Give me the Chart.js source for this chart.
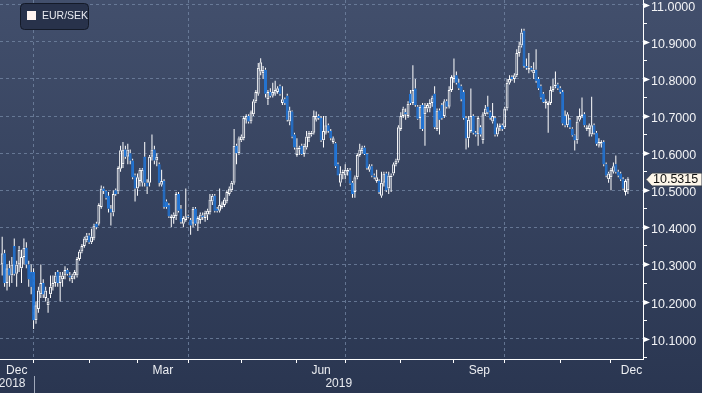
<!DOCTYPE html>
<html><head><meta charset="utf-8">
<script src="https://cdn.jsdelivr.net/npm/chart.js@4.4.1/dist/chart.umd.min.js"></script>
<style>html,body{margin:0;padding:0;background:#2c3853;overflow:hidden}#wrap{width:702px;height:393px;position:relative}</style>
</head><body><div id="wrap"><canvas id="c" width="702" height="393"></canvas></div>
<script>
// ---- data (trading-day index: Jan 1 2019 = 0; first candle at index -13) ----
const seriesName = 'EUR/SEK';
const firstDay = -13;
const opens = [
10.30,10.33,10.25,10.29,10.27,10.35,10.275,10.30,10.29,10.32,10.345,10.30,10.28,
10.28,10.15,10.18,10.22,10.25,10.21,10.19,10.22,10.24,10.25,10.28,10.25,10.26,10.27,10.285,10.27,10.26,10.27,10.27,10.315,10.335,10.35,10.365,10.378,10.36,10.37,10.41,10.41,10.455,10.505,10.498,10.485,10.45,10.44,10.50,10.497,10.558,10.57,10.61,
10.59,10.60,10.58,10.54,10.505,10.525,10.52,10.59,10.52,10.52,10.59,10.61,10.58,10.57,10.515,10.525,10.47,10.46,10.425,10.425,10.43,10.49,10.45,10.41,10.42,10.43,10.42,10.41,10.45,10.41,10.42,10.432,10.425,10.435,10.44,10.47,10.485,10.45,10.445,10.455,10.46,10.47,10.49,10.50,10.52,10.62,10.60,10.635,10.64,10.69,10.70,10.685,10.705,10.74,10.76,
10.82,10.815,10.825,10.745,10.765,10.755,10.76,10.765,10.78,10.735,10.745,10.755,10.685,10.712,10.65,10.595,10.61,10.62,10.598,10.615,10.64,10.65,10.655,10.69,10.70,10.695,10.635,10.655,10.675,10.66,10.63,10.627,10.57,10.52,10.545,10.54,10.55,10.553,10.52,10.495,10.535,10.595,10.605,10.615,10.598,10.555,10.565,10.54,10.525,10.525,10.485,10.52,10.545,
10.505,10.535,10.545,10.57,10.58,10.665,10.70,10.71,10.70,10.76,10.735,10.774,10.725,10.695,10.73,10.705,10.72,10.72,10.735,10.76,10.665,10.715,10.73,10.70,10.74,10.725,10.77,10.80,10.81,10.79,10.78,10.765,10.695,10.64,10.66,10.70,10.655,10.65,10.67,10.635,10.705,10.725,10.71,10.685,10.695,10.65,10.67,10.675,10.67,10.72,10.79,10.805,10.80,10.81,10.87,
10.89,10.93,10.835,10.825,10.83,10.815,10.825,10.80,10.78,10.76,10.735,10.73,10.735,10.77,10.78,10.785,10.775,10.765,10.70,10.675,10.69,10.666,10.648,10.635,10.69,10.70,10.705,10.665,10.665,10.65,10.675,10.655,10.62,10.625,10.63,10.57,10.53,10.535,10.55,10.57,10.55,10.545,10.53,10.495,10.50];
const highs = [
10.375,10.34,10.30,10.31,10.32,10.37,10.31,10.35,10.34,10.37,10.36,10.31,10.30,
10.29,10.20,10.24,10.30,10.26,10.24,10.21,10.27,10.27,10.28,10.285,10.28,10.28,10.295,10.29,10.28,10.275,10.285,10.32,10.34,10.355,10.375,10.385,10.385,10.396,10.41,10.415,10.465,10.513,10.51,10.50,10.495,10.46,10.50,10.505,10.565,10.62,10.63,10.62,
10.625,10.61,10.585,10.545,10.545,10.56,10.56,10.63,10.53,10.595,10.65,10.62,10.60,10.575,10.555,10.53,10.475,10.465,10.435,10.44,10.495,10.495,10.46,10.43,10.505,10.435,10.425,10.455,10.455,10.43,10.44,10.44,10.445,10.45,10.49,10.49,10.49,10.455,10.505,10.47,10.48,10.50,10.51,10.525,10.665,10.625,10.645,10.65,10.70,10.705,10.705,10.715,10.745,10.77,10.843,
10.856,10.835,10.83,10.77,10.775,10.79,10.795,10.78,10.785,10.78,10.75,10.76,10.725,10.715,10.655,10.64,10.62,10.625,10.625,10.66,10.66,10.66,10.715,10.712,10.705,10.70,10.70,10.70,10.68,10.665,10.645,10.63,10.575,10.565,10.555,10.57,10.56,10.56,10.525,10.54,10.60,10.625,10.62,10.62,10.60,10.57,10.57,10.545,10.555,10.53,10.55,10.55,10.55,
10.55,10.545,10.575,10.585,10.675,10.71,10.725,10.72,10.74,10.77,10.837,10.80,10.73,10.73,10.735,10.735,10.735,10.745,10.755,10.78,10.72,10.72,10.735,10.745,10.745,10.78,10.81,10.855,10.82,10.80,10.785,10.77,10.70,10.70,10.774,10.705,10.66,10.70,10.675,10.71,10.73,10.755,10.715,10.735,10.70,10.68,10.68,10.68,10.725,10.80,10.81,10.81,10.815,10.88,10.90,
10.935,10.935,10.855,10.87,10.835,10.845,10.88,10.805,10.785,10.765,10.745,10.74,10.78,10.80,10.82,10.79,10.78,10.77,10.715,10.71,10.695,10.67,10.65,10.70,10.72,10.75,10.71,10.675,10.68,10.752,10.68,10.66,10.64,10.635,10.635,10.575,10.55,10.56,10.575,10.594,10.555,10.55,10.535,10.53,10.535];
const lows = [
10.27,10.24,10.23,10.24,10.25,10.27,10.24,10.28,10.25,10.30,10.29,10.24,10.22,
10.126,10.14,10.17,10.21,10.21,10.20,10.17,10.21,10.23,10.24,10.24,10.20,10.24,10.26,10.27,10.255,10.25,10.26,10.265,10.31,10.33,10.345,10.36,10.355,10.355,10.365,10.395,10.405,10.45,10.49,10.475,10.44,10.405,10.43,10.485,10.49,10.55,10.56,10.585,
10.57,10.57,10.53,10.47,10.485,10.51,10.51,10.51,10.49,10.51,10.58,10.57,10.565,10.51,10.51,10.45,10.45,10.425,10.40,10.41,10.42,10.44,10.41,10.40,10.415,10.425,10.38,10.40,10.405,10.39,10.41,10.42,10.415,10.42,10.435,10.46,10.44,10.44,10.44,10.45,10.455,10.465,10.485,10.495,10.515,10.57,10.595,10.63,10.635,10.68,10.68,10.68,10.70,10.735,10.755,
10.81,10.80,10.75,10.73,10.75,10.75,10.755,10.76,10.755,10.73,10.73,10.685,10.675,10.64,10.61,10.59,10.595,10.595,10.59,10.61,10.63,10.645,10.65,10.685,10.69,10.63,10.615,10.65,10.655,10.635,10.625,10.56,10.54,10.51,10.53,10.53,10.54,10.515,10.48,10.48,10.53,10.59,10.60,10.595,10.555,10.55,10.535,10.53,10.52,10.49,10.48,10.51,10.495,
10.49,10.495,10.54,10.565,10.575,10.66,10.695,10.69,10.695,10.73,10.73,10.725,10.69,10.665,10.66,10.62,10.71,10.71,10.725,10.665,10.66,10.65,10.69,10.695,10.72,10.72,10.765,10.79,10.785,10.77,10.74,10.69,10.61,10.615,10.655,10.65,10.645,10.62,10.645,10.625,10.70,10.705,10.69,10.68,10.645,10.645,10.66,10.66,10.665,10.715,10.785,10.795,10.79,10.805,10.86,
10.885,10.83,10.825,10.815,10.82,10.80,10.79,10.77,10.745,10.735,10.72,10.655,10.73,10.765,10.775,10.77,10.76,10.675,10.67,10.67,10.665,10.645,10.607,10.625,10.685,10.695,10.67,10.66,10.645,10.645,10.65,10.62,10.615,10.615,10.565,10.535,10.52,10.50,10.545,10.545,10.535,10.525,10.50,10.486,10.49];
const closes = [
10.33,10.25,10.29,10.27,10.30,10.275,10.30,10.34,10.32,10.345,10.30,10.26,10.24,
10.15,10.19,10.23,10.25,10.22,10.23,10.20,10.24,10.25,10.27,10.25,10.27,10.27,10.285,10.275,10.265,10.27,10.28,10.315,10.335,10.35,10.37,10.378,10.36,10.375,10.405,10.40,10.46,10.505,10.498,10.48,10.45,10.44,10.49,10.49,10.56,10.608,10.61,10.59,
10.61,10.58,10.535,10.505,10.535,10.555,10.555,10.52,10.51,10.59,10.61,10.58,10.59,10.52,10.525,10.455,10.455,10.43,10.43,10.435,10.49,10.445,10.415,10.425,10.43,10.428,10.405,10.45,10.41,10.425,10.435,10.428,10.44,10.445,10.475,10.485,10.445,10.445,10.46,10.465,10.475,10.495,10.505,10.52,10.62,10.60,10.64,10.645,10.695,10.70,10.685,10.71,10.74,10.765,10.83,
10.845,10.825,10.76,10.765,10.755,10.765,10.77,10.775,10.76,10.745,10.735,10.69,10.715,10.645,10.615,10.615,10.615,10.598,10.62,10.645,10.655,10.655,10.70,10.70,10.695,10.635,10.66,10.675,10.66,10.64,10.64,10.565,10.54,10.545,10.55,10.555,10.555,10.518,10.49,10.535,10.595,10.61,10.615,10.598,10.56,10.565,10.54,10.535,10.535,10.495,10.52,10.545,10.50,
10.54,10.54,10.57,10.58,10.67,10.70,10.72,10.705,10.733,10.735,10.77,10.73,10.693,10.725,10.665,10.725,10.73,10.735,10.75,10.67,10.715,10.69,10.695,10.74,10.725,10.77,10.805,10.81,10.79,10.775,10.745,10.695,10.64,10.69,10.70,10.655,10.65,10.695,10.65,10.705,10.72,10.71,10.695,10.70,10.65,10.67,10.675,10.665,10.72,10.79,10.80,10.80,10.81,10.87,10.89,
10.925,10.835,10.83,10.83,10.825,10.825,10.795,10.775,10.75,10.738,10.74,10.735,10.77,10.78,10.785,10.775,10.765,10.68,10.675,10.705,10.67,10.648,10.635,10.685,10.70,10.705,10.675,10.67,10.675,10.675,10.655,10.625,10.63,10.63,10.57,10.54,10.545,10.555,10.565,10.55,10.54,10.53,10.505,10.525,10.5315];
// calendar: trading-day index of the first weekday of each month, Jan..Dec 2019
const monthStarts = [0,23,43,64,86,109,129,152,174,195,218,239];
const monthLabels = ['Dec','Mar','Jun','Sep','Dec'];
const yearLabels = ['2018','2019'];

// ---- styling ----
const UP = '#ffffff', DOWN = '#2178dc';
const GRID = 'rgba(118,136,166,0.75)';
const FONT = "'Liberation Sans', Arial, sans-serif";
const X_MIN = -13.9, X_MAX = 252.25, Y_MIN = 10.0453, Y_MAX = 11.0127;

const idx = opens.map((_, k) => firstDay + k);
const bodies = idx.map((x, k) => ({x, y: [opens[k], closes[k]]}));
const upperWicks = idx.map((x, k) => ({x, y: [Math.max(opens[k], closes[k]), highs[k]]}));
const lowerWicks = idx.map((x, k) => ({x, y: [lows[k], Math.min(opens[k], closes[k])]}));
const isUp = k => closes[k] >= opens[k];

const bgPlugin = {
  id: 'bg',
  beforeDraw(chart) {
    const c = chart.ctx, g = c.createLinearGradient(0, 0, 0, chart.height);
    g.addColorStop(0, '#424f6c'); g.addColorStop(1, '#2a3651');
    c.save(); c.fillStyle = g; c.fillRect(0, 0, chart.width, chart.height); c.restore();
  }
};

const overlayPlugin = {
  id: 'overlay',
  afterDraw(chart) {
    const c = chart.ctx, xs = chart.scales.x, ys = chart.scales.y, area = chart.chartArea;
    c.save();
    // y-axis major markers
    c.fillStyle = '#ffffff';
    ys.ticks.forEach(t => {
      if (!t.maj) return;
      const y = Math.round(ys.getPixelForValue(t.value)) + 0.5;
      c.beginPath(); c.moveTo(area.right + 1, y - 2.5); c.lineTo(area.right + 1, y + 2.5); c.lineTo(area.right + 7, y); c.closePath(); c.fill();
    });
    // year labels + separator
    const sepX = Math.round(xs.getPixelForValue(monthStarts[0])) + 0.5;
    c.strokeStyle = 'rgba(190,198,212,0.8)'; c.lineWidth = 1;
    c.beginPath(); c.moveTo(sepX, 376); c.lineTo(sepX, 393); c.stroke();
    c.fillStyle = '#e9ebf0'; c.font = '12px ' + FONT; c.textBaseline = 'middle';
    c.textAlign = 'right'; c.fillText(yearLabels[0], sepX - 9, 384);
    c.textAlign = 'center'; c.fillText(yearLabels[1], (sepX + area.right) / 2, 384);
    // legend box
    const r = 4, bx = 20.5, by = 3.5, bw = 68, bh = 26;
    c.beginPath();
    c.moveTo(bx + r, by); c.lineTo(bx + bw - r, by); c.quadraticCurveTo(bx + bw, by, bx + bw, by + r);
    c.lineTo(bx + bw, by + bh - r); c.quadraticCurveTo(bx + bw, by + bh, bx + bw - r, by + bh);
    c.lineTo(bx + r, by + bh); c.quadraticCurveTo(bx, by + bh, bx, by + bh - r);
    c.lineTo(bx, by + r); c.quadraticCurveTo(bx, by, bx + r, by); c.closePath();
    c.fillStyle = '#28324b'; c.fill(); c.strokeStyle = '#141a28'; c.stroke();
    c.fillStyle = '#fff4f0'; c.fillRect(27, 11, 9, 9);
    c.fillStyle = '#e8eaf0'; c.font = '10.5px ' + FONT; c.textAlign = 'left'; c.textBaseline = 'middle';
    c.fillText(seriesName, 42, 16.5);
    // last price tag
    const last = closes[closes.length - 1];
    const ly = Math.round(ys.getPixelForValue(last)) + 0.5;
    c.beginPath();
    c.moveTo(area.right + 3, ly); c.lineTo(area.right + 9, ly - 6.5); c.lineTo(702, ly - 6.5);
    c.lineTo(702, ly + 6.5); c.lineTo(area.right + 9, ly + 6.5); c.closePath();
    c.fillStyle = '#fdf6e9'; c.fill(); c.strokeStyle = '#39404f'; c.stroke();
    c.fillStyle = '#111111'; c.font = '12.5px ' + FONT; c.textAlign = 'left';
    c.fillText(last.toFixed(4), area.right + 10, ly + 0.5);
    c.restore();
  }
};

function xLabelTicks() {
  const pxPerDay = 643 / (X_MAX - X_MIN);
  return [
    (X_MIN + monthStarts[0]) / 2,
    (monthStarts[2] + monthStarts[3]) / 2,
    (monthStarts[5] + monthStarts[6]) / 2,
    (monthStarts[8] + monthStarts[9]) / 2,
    X_MAX - 11.5 / pxPerDay
  ];
}

new Chart(document.getElementById('c'), {
  type: 'bar',
  data: {
    datasets: [
      { data: lowerWicks, backgroundColor: UP, borderWidth: 0, grouped: false, categoryPercentage: 1, barPercentage: 1, maxBarThickness: 1, inflateAmount: 0, order: 3 },
      { data: upperWicks, backgroundColor: UP, borderWidth: 0, grouped: false, categoryPercentage: 1, barPercentage: 1, maxBarThickness: 1, inflateAmount: 0, order: 2 },
      { data: bodies, grouped: false, categoryPercentage: 1, barPercentage: 1.2, borderWidth: 1, borderSkipped: false, inflateAmount: 0,
        backgroundColor: ctx => isUp(ctx.dataIndex) ? 'rgba(0,0,0,0)' : DOWN,
        borderColor: ctx => isUp(ctx.dataIndex) ? UP : DOWN, order: 1 }
    ]
  },
  options: {
    responsive: false, animation: false, events: [], devicePixelRatio: 1,
    layout: { padding: 0 },
    plugins: { legend: { display: false }, tooltip: { enabled: false } },
    scales: {
      x: {
        type: 'linear', min: X_MIN, max: X_MAX, offset: false,
        afterBuildTicks(scale) {
          const t = monthStarts.map((v, k) => ({ value: v, kind: k % 3 === 0 ? 'q' : 'm' }));
          xLabelTicks().forEach((v, k) => t.push({ value: v, kind: 'l', text: monthLabels[k] }));
          t.sort((a, b) => a.value - b.value);
          scale.ticks = t;
        },
        afterFit(scale) { scale.height = 34; scale.paddingLeft = 0; scale.paddingRight = 0; },
        ticks: {
          autoSkip: false, maxRotation: 0, minRotation: 0, padding: 0, color: '#eceef2',
          font: { family: FONT, size: 12 },
          callback: (v, i, ticks) => ticks[i].text || ''
        },
        grid: {
          offset: false,
          color: ctx => (ctx.tick && ctx.tick.kind === 'q') ? GRID : 'rgba(0,0,0,0)',
          tickColor: ctx => (ctx.tick && ctx.tick.kind !== 'l') ? '#ffffff' : 'rgba(0,0,0,0)',
          tickLength: 4, lineWidth: 1
        },
        border: { display: true, color: '#ffffff', width: 1, dash: [3, 3] }
      },
      y: {
        type: 'linear', position: 'right', min: Y_MIN, max: Y_MAX,
        afterBuildTicks(scale) {
          const t = [];
          for (let k = 201; k <= 220; k++) t.push({ value: k / 20, maj: k % 2 === 0 });
          scale.ticks = t;
        },
        afterFit(scale) { scale.width = 59; scale.paddingTop = 0; scale.paddingBottom = 0; },
        ticks: {
          padding: 4, labelOffset: 2.5, color: '#f2f3f6', font: { family: FONT, size: 12.5 },
          callback: (v, i, ticks) => ticks[i].maj ? v.toFixed(4) : ''
        },
        grid: {
          offset: false,
          color: ctx => (ctx.tick && ctx.tick.maj) ? GRID : 'rgba(0,0,0,0)',
          tickColor: '#ffffff', tickLength: 4, lineWidth: 1
        },
        border: { display: true, color: '#ffffff', width: 1, dash: [3, 3] }
      }
    }
  },
  plugins: [bgPlugin, overlayPlugin]
});
</script>
</body></html>
